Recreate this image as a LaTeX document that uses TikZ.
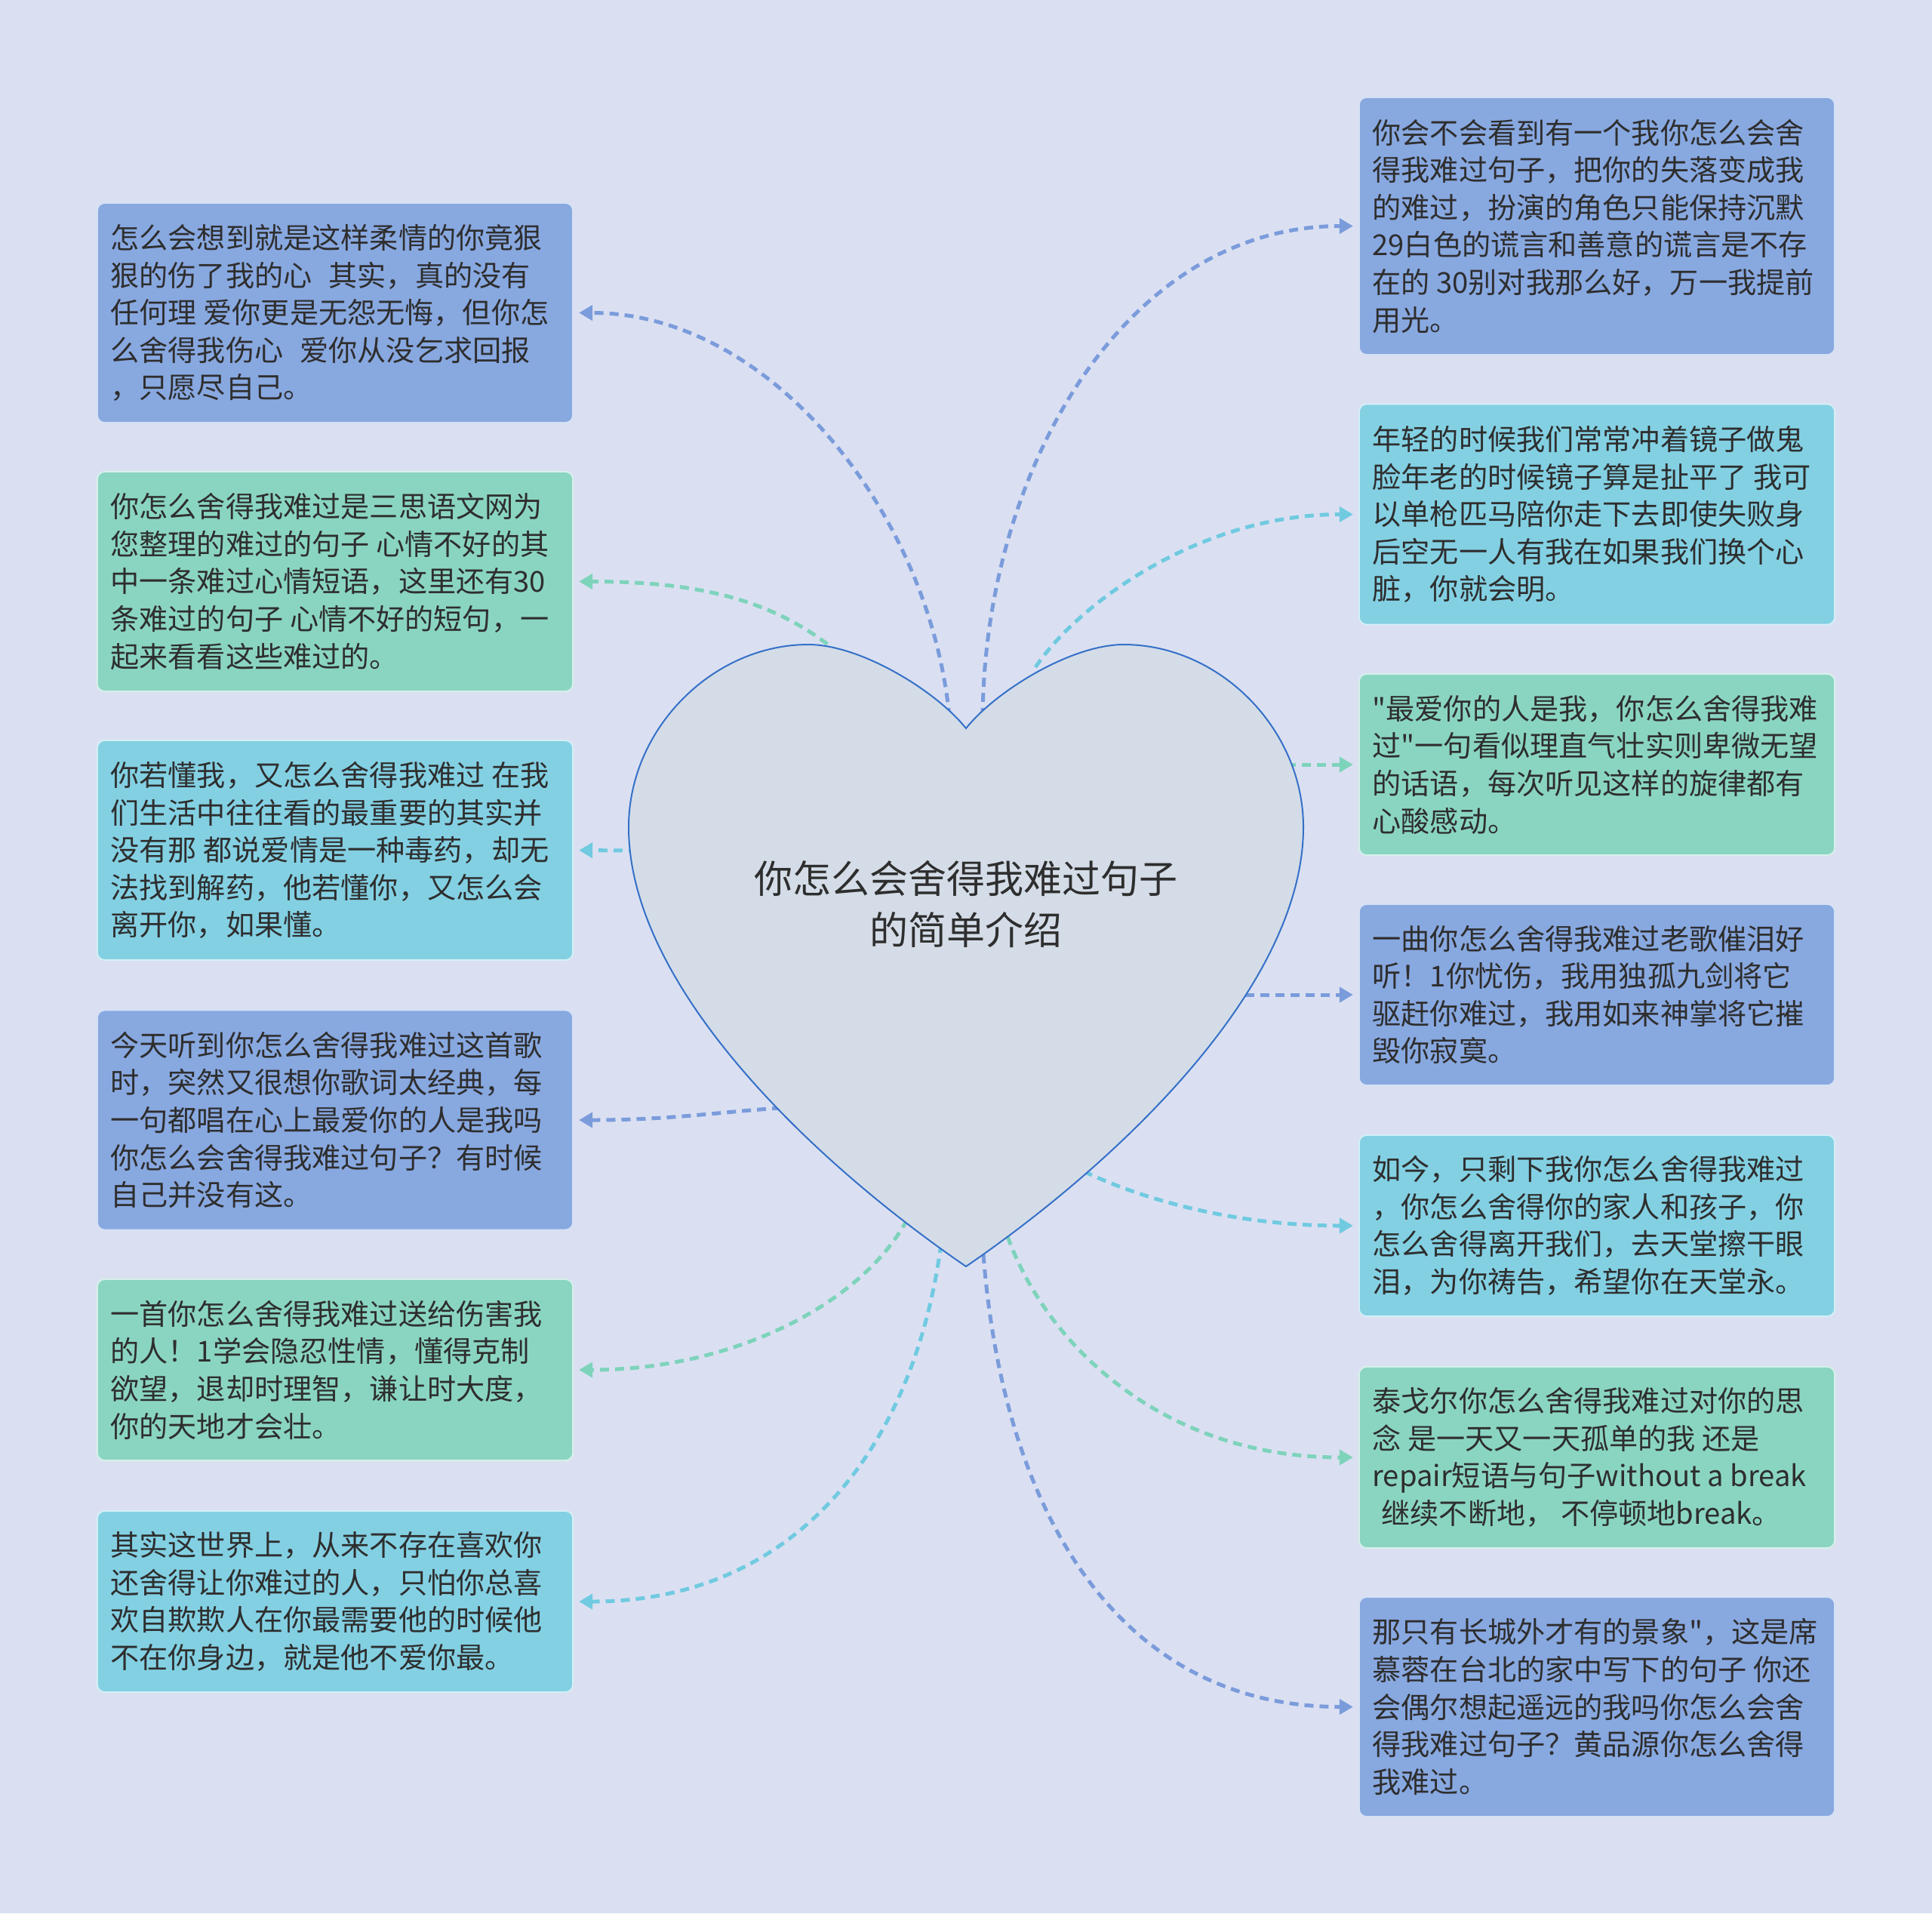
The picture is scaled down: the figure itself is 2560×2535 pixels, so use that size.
\documentclass[tikz,border=0pt]{standalone}
\usepackage{fontspec}
\setmainfont{Noto Sans CJK SC}[Ligatures=TeXOff]
\usetikzlibrary{arrows.meta}
\definecolor{bgc}{HTML}{DAE0F2}
\definecolor{heartfill}{HTML}{D4DCE7}
\definecolor{heartline}{HTML}{3570C8}
\definecolor{bblue}{HTML}{88A8E0}
\definecolor{bgreen}{HTML}{8AD5C2}
\definecolor{bcyan}{HTML}{83D0E3}
\definecolor{cblue}{HTML}{7B9CDB}
\definecolor{cgreen}{HTML}{7ED3BB}
\definecolor{ccyan}{HTML}{70CAE0}
\definecolor{txtc}{HTML}{2E2E2E}
\tikzset{
  boxnode/.style={rectangle, rounded corners=0.1cm, minimum width=6.3cm, inner sep=0pt,
    fill=#1, draw=#1!35!white, line width=0.02cm},
  txtnode/.style={anchor=west, inner sep=0pt, align=left, text=txtc,
    font=\fontsize{10.85pt}{14.1pt}\selectfont},
  conn/.style={draw=#1, line width=0.05cm, dash pattern=on 0.12cm off 0.08cm,
    -{Triangle[length=0.18cm,width=0.2cm]}, shorten >=0.07cm},
  titlenode/.style={align=center, text=txtc, inner sep=0pt,
    font=\fontsize{14.5pt}{19.3pt}\selectfont}
}
\begin{document}
\begin{tikzpicture}[x=0.01cm,y=-0.01cm]
\fill[bgc] (0,0) rectangle (2560,2535);
\useasboundingbox (0,0) rectangle (2560,2535);

% left boxes
\node[boxnode=bblue, minimum height=2.91cm] (L1) at (444,414.5) {};
\node[txtnode] (L1t) at ([xshift=0.18cm]L1.west) {怎么会想到就是这样柔情的你竟狠\\狠的伤了我的心\hspace{0.22cm}其实，真的没有\\任何理 爱你更是无怨无悔，但你怎\\么舍得我伤心\hspace{0.22cm}爱你从没乞求回报\\，只愿尽自己。};
\node[boxnode=bgreen, minimum height=2.91cm] (L2) at (444,770.5) {};
\node[txtnode] (L2t) at ([xshift=0.18cm]L2.west) {你怎么舍得我难过是三思语文网为\\您整理的难过的句子 心情不好的其\\中一条难过心情短语，这里还有30\\条难过的句子 心情不好的短句，一\\起来看看这些难过的。};
\node[boxnode=bcyan, minimum height=2.91cm] (L3) at (444,1126.5) {};
\node[txtnode] (L3t) at ([xshift=0.18cm]L3.west) {你若懂我，又怎么舍得我难过 在我\\们生活中往往看的最重要的其实并\\没有那 都说爱情是一种毒药，却无\\法找到解药，他若懂你，又怎么会\\离开你，如果懂。};
\node[boxnode=bblue, minimum height=2.91cm] (L4) at (444,1484) {};
\node[txtnode] (L4t) at ([xshift=0.18cm]L4.west) {今天听到你怎么舍得我难过这首歌\\时，突然又很想你歌词太经典，每\\一句都唱在心上最爱你的人是我吗\\你怎么会舍得我难过句子？有时候\\自己并没有这。};
\node[boxnode=bgreen, minimum height=2.40cm] (L5) at (444,1815) {};
\node[txtnode] (L5t) at ([xshift=0.18cm]L5.west) {一首你怎么舍得我难过送给伤害我\\的人！1学会隐忍性情，懂得克制\\欲望，退却时理智，谦让时大度，\\你的天地才会壮。};
\node[boxnode=bcyan, minimum height=2.40cm] (L6) at (444,2122) {};
\node[txtnode] (L6t) at ([xshift=0.18cm]L6.west) {其实这世界上，从来不存在喜欢你\\还舍得让你难过的人，只怕你总喜\\欢自欺欺人在你最需要他的时候他\\不在你身边，就是他不爱你最。};

% right boxes
\node[boxnode=bblue, minimum height=3.41cm] (R1) at (2116,299.5) {};
\node[txtnode] (R1t) at ([xshift=0.18cm]R1.west) {你会不会看到有一个我你怎么会舍\\得我难过句子，把你的失落变成我\\的难过，扮演的角色只能保持沉默\\29白色的谎言和善意的谎言是不存\\在的 30别对我那么好，万一我提前\\用光。};
\node[boxnode=bcyan, minimum height=2.92cm] (R2) at (2116,681.5) {};
\node[txtnode] (R2t) at ([xshift=0.18cm]R2.west) {年轻的时候我们常常冲着镜子做鬼\\脸年老的时候镜子算是扯平了 我可\\以单枪匹马陪你走下去即使失败身\\后空无一人有我在如果我们换个心\\脏，你就会明。};
\node[boxnode=bgreen, minimum height=2.40cm] (R3) at (2116,1013) {};
\node[txtnode] (R3t) at ([xshift=0.18cm]R3.west) {"最爱你的人是我，你怎么舍得我难\\过"一句看似理直气壮实则卑微无望\\的话语，每次听见这样的旋律都有\\心酸感动。};
\node[boxnode=bblue, minimum height=2.40cm] (R4) at (2116,1318) {};
\node[txtnode] (R4t) at ([xshift=0.18cm]R4.west) {一曲你怎么舍得我难过老歌催泪好\\听！1你忧伤，我用独孤九剑将它\\驱赶你难过，我用如来神掌将它摧\\毁你寂寞。};
\node[boxnode=bcyan, minimum height=2.40cm] (R5) at (2116,1624) {};
\node[txtnode] (R5t) at ([xshift=0.18cm]R5.west) {如今，只剩下我你怎么舍得我难过\\，你怎么舍得你的家人和孩子，你\\怎么舍得离开我们，去天堂擦干眼\\泪，为你祷告，希望你在天堂永。};
\node[boxnode=bgreen, minimum height=2.40cm] (R6) at (2116,1931) {};
\node[txtnode] (R6t) at ([xshift=0.18cm]R6.west) {泰戈尔你怎么舍得我难过对你的思\\念 是一天又一天孤单的我 还是\\repair短语与句子without a break\\\hspace*{0.12cm}继续不断地， 不停顿地break。};
\node[boxnode=bblue, minimum height=2.91cm] (R7) at (2116,2261.5) {};
\node[txtnode] (R7t) at ([xshift=0.18cm]R7.west) {那只有长城外才有的景象"，这是席\\慕蓉在台北的家中写下的句子 你还\\会偶尔想起遥远的我吗你怎么会舍\\得我难过句子？黄品源你怎么舍得\\我难过。};

% connector start points on the heart
\coordinate (sL1) at (1258,950);
\coordinate (sL2) at (1112,866);
\coordinate (sL3) at (845,1127);
\coordinate (sL4) at (1035,1468);
\coordinate (sL5) at (1202,1616);
\coordinate (sL6) at (1247,1648);
\coordinate (sR1) at (1302,950);
\coordinate (sR2) at (1372,884);
\coordinate (sR3) at (1705,1013);
\coordinate (sR4) at (1630,1318);
\coordinate (sR5) at (1436,1552);
\coordinate (sR6) at (1335,1638);
\coordinate (sR7) at (1303,1662);

% connectors
\draw[conn=cblue] (sL1) .. controls +(-26,-270) and +(261,0) .. (L1.east);
\draw[conn=cgreen] (sL2) .. controls +(-87,-74) and +(158,0) .. (L2.east);
\draw[conn=ccyan] (sL3) -- (L3.east);
\draw[conn=cblue] (sL4) .. controls +(-80,5) and +(128,0) .. (L4.east);
\draw[conn=cgreen] (sL5) .. controls +(-62,114) and +(208,0) .. (L5.east);
\draw[conn=ccyan] (sL6) .. controls +(-37,278) and +(288,0) .. (L6.east);
\draw[conn=cblue] (sR1) .. controls +(3,-330) and +(-308,0) .. (R1.west);
\draw[conn=ccyan] (sR2) .. controls +(58,-86) and +(-208,0) .. (R2.west);
\draw[conn=cgreen] (sR3) -- (R3.west);
\draw[conn=cblue] (sR4) -- (R4.west);
\draw[conn=ccyan] (sR5) .. controls +(84,40) and +(-158,0) .. (R5.west);
\draw[conn=cgreen] (sR6) .. controls +(52,145) and +(-258,0) .. (R6.west);
\draw[conn=cblue] (sR7) .. controls +(28,357) and +(-308,0) .. (R7.west);

% heart
\path[fill=heartfill, draw=heartline, line width=0.02cm, line join=miter]
  (1280,965) .. controls (1240,915) and (1140,854) .. (1071,854)
  .. controls (945,854) and (833,965) .. (833,1096)
  .. controls (833,1308) and (1080,1541) .. (1280,1678)
  .. controls (1480,1541) and (1727,1308) .. (1727,1096)
  .. controls (1727,965) and (1615,854) .. (1489,854)
  .. controls (1420,854) and (1320,915) .. cycle;
\node[titlenode] (title) at (1280,1198) {你怎么会舍得我难过句子\\的简单介绍};
\end{tikzpicture}
\end{document}
